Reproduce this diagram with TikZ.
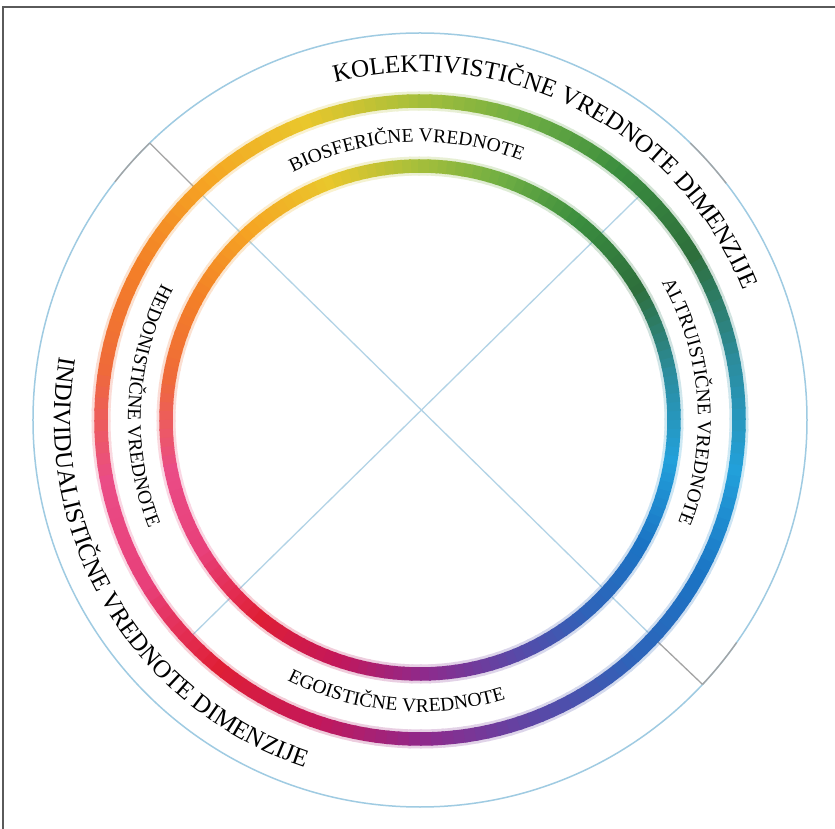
\documentclass[tikz,border=0pt]{standalone}
\usepackage{fontspec}
\setmainfont{Liberation Serif}
\usetikzlibrary{decorations.text}

\definecolor{guideblue}{HTML}{9FCBE2}
\definecolor{crossblue}{HTML}{B2D3E6}
\definecolor{bracketgray}{HTML}{A4A4A4}
\definecolor{framegray}{HTML}{5A5A5A}
\definecolor{rc0}{HTML}{A8BF3A}
\definecolor{rc1}{HTML}{E9C72C}
\definecolor{rc2}{HTML}{F5A623}
\definecolor{rc3}{HTML}{F38027}
\definecolor{rc4}{HTML}{EF6A3A}
\definecolor{rc5}{HTML}{EA4C86}
\definecolor{rc6}{HTML}{E8407A}
\definecolor{rc7}{HTML}{DF1F35}
\definecolor{rc8}{HTML}{C3175A}
\definecolor{rc9}{HTML}{8E2A8C}
\definecolor{rc10}{HTML}{5C47A6}
\definecolor{rc11}{HTML}{2F63B9}
\definecolor{rc12}{HTML}{1B74C4}
\definecolor{rc13}{HTML}{22A0DA}
\definecolor{rc14}{HTML}{2C8C9C}
\definecolor{rc15}{HTML}{2E6F3C}
\definecolor{rc16}{HTML}{3A8D3E}
\definecolor{rc17}{HTML}{6FAE43}
\definecolor{rc18}{HTML}{A8BF3A}

\newcommand{\dimfont}{\fontsize{25}{30}\selectfont}
\newcommand{\valfont}{\fontsize{19.5}{23}\selectfont}

\begin{document}
\begin{tikzpicture}[
    x=1pt, y=1pt,
    guide/.style={draw=guideblue, line width=1.5pt},
    cross/.style={draw=crossblue, line width=1.3pt},
    bracket/.style={draw=bracketgray, line width=1.3pt},
    ring/.style={line width=13.5pt},
    halo/.style={line width=19pt},
    dimlabel/.style={decorate, decoration={text along path, text align=center, text={|\dimfont|#1}}},
    vallabel/.style={decorate, decoration={text along path, text align=center, text={|\valfont|#1}}}
]
\useasboundingbox (-420,-409) rectangle (415,420);
\fill[white] (-420,-409) rectangle (415,420);
\draw[framegray, line width=1.5pt] (-417,-409) -- (-417,413) -- (415,413);

\coordinate (c) at (0,0);
\coordinate (ul) at (134.3:387);
\coordinate (ulr) at (134.1:320);
\coordinate (lr) at (-43.1:387);
\coordinate (lrr) at (-43:320);
\coordinate (ur) at (45.6:318);
\coordinate (ll) at (223.4:318);

\draw[guide] (c) circle[radius=387pt];
\draw[bracket] (134.3:387) arc[start angle=134.3, end angle=142, radius=387pt];
\draw[bracket] (-43.1:387) arc[start angle=-43.1, end angle=-35.1, radius=387pt];
\draw[bracket] (37.7:387) arc[start angle=37.7, end angle=45.7, radius=387pt];

\draw[cross] (ulr) -- (lrr);
\draw[cross] (ur) -- (ll);
\draw[bracket] (ul) -- (ulr);
\draw[bracket] (lr) -- (lrr);

% soft glow under the two colour rings
\begin{scope}[transparency group, opacity=0.22]
\foreach \r in {319,254} {
  \foreach \i in {0,...,17} {
    \pgfmathtruncatemacro\j{\i+1}
    \foreach \k in {0,...,9} {
      \pgfmathtruncatemacro\p{100-10*\k}
      \pgfmathsetmacro\a{90+20*\i+2*\k}
      \draw[halo, draw=rc\i!\p!rc\j] (\a:\r) arc[start angle=\a, end angle=\a+2.4, radius=\r pt];
    }
  }
}
\end{scope}

\foreach \r in {319,254} {
  \foreach \i in {0,...,17} {
    \pgfmathtruncatemacro\j{\i+1}
    \foreach \k in {0,...,9} {
      \pgfmathtruncatemacro\p{100-10*\k}
      \pgfmathsetmacro\a{90+20*\i+2*\k}
      \draw[ring, draw=rc\i!\p!rc\j] (\a:\r) arc[start angle=\a, end angle=\a+2.4, radius=\r pt];
    }
  }
}

\path[dimlabel={KOLEKTIVISTIČNE VREDNOTE DIMENZIJE}]
  (123:348) arc[start angle=123, end angle=3, radius=348pt];
\path[dimlabel={INDIVIDUALISTIČNE VREDNOTE DIMENZIJE}]
  (150:366) arc[start angle=150, end angle=271.6, radius=366pt];
\path[vallabel={BIOSFERIČNE VREDNOTE}]
  (130:278) arc[start angle=130, end angle=55.8, radius=278pt];
\path[vallabel={ALTRUISTIČNE VREDNOTE}]
  (40:278) arc[start angle=40, end angle=-32, radius=278pt];
\path[vallabel={HEDONISTIČNE VREDNOTE}]
  (140:292) arc[start angle=140, end angle=213.8, radius=292pt];
\path[vallabel={EGOISTIČNE VREDNOTE}]
  (230:292) arc[start angle=230, end angle=300, radius=292pt];
\end{tikzpicture}
\end{document}
